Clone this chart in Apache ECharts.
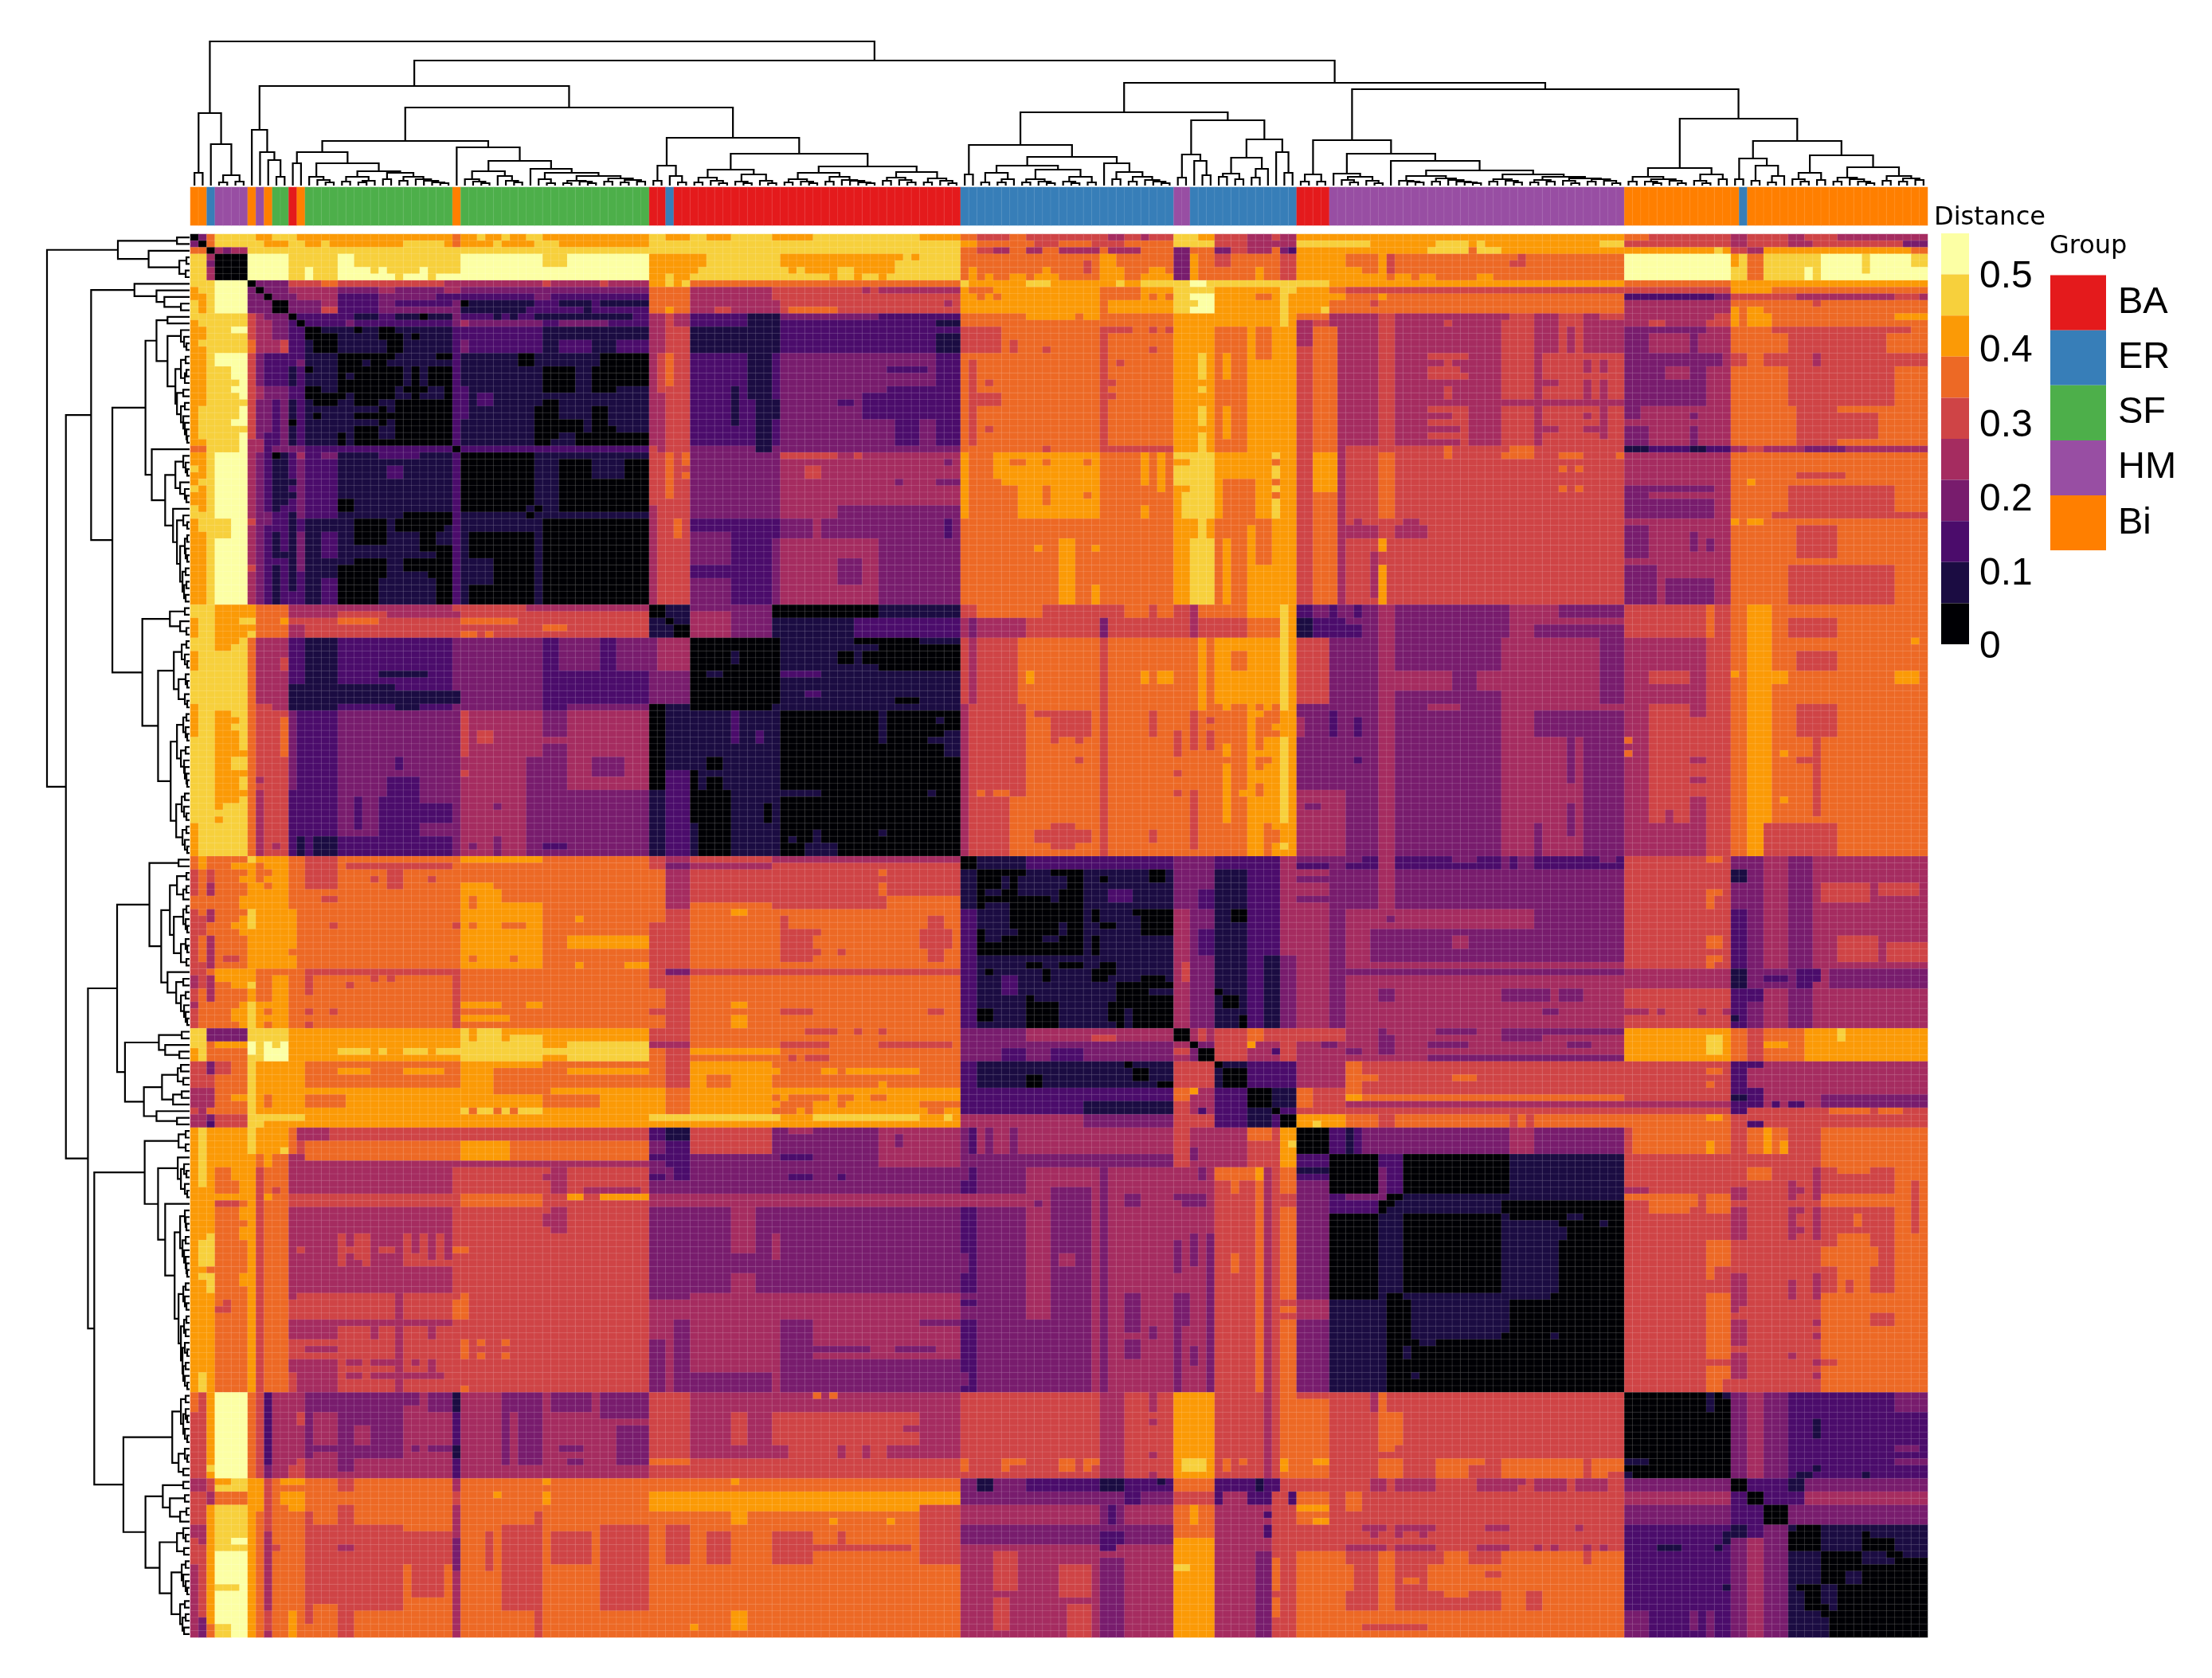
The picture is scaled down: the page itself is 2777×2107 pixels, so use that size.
<!DOCTYPE html>
<html><head><meta charset="utf-8"><style>html,body{margin:0;background:#fff}#c{width:2777px;height:2107px}</style>
<script src="https://cdn.jsdelivr.net/npm/echarts@6/dist/echarts.min.js"></script></head><body><div id="c"></div>
<script>
const N=212;
const LEVEL_COLORS=['#000004','#1B0C42','#4B0C6B','#781C6D','#A52C60','#CF4446','#ED6925','#FB9A06','#F7D03C','#FCFFA4'];
const BIN=0.055;
const TICKS=['0','0.1','0.2','0.3','0.4','0.5'];
const GROUP_NAMES=['BA','ER','SF','HM','Bi'];
const GROUP_COLORS=['#E41A1C','#377EB8','#4DAF4A','#984EA3','#FF7F00'];
const GROUP_RUNS=[[4,2],[1,1],[3,4],[4,1],[3,1],[4,1],[2,2],[0,1],[4,1],[2,18],[4,1],[2,23],[0,2],[1,1],[0,35],[1,26],[3,2],[1,13],[0,4],[3,36],[4,14],[1,1],[4,22]];
// Patches: [rowFrom,rowTo,colFrom,colTo,colourLevel], painted in order, mirrored across the diagonal.
const ROWS_0_2=[[0,1,0,1,0],[0,1,1,2,3],[0,1,2,3,6],[0,1,3,71,8],[0,1,8,10,7],[0,1,13,32,7],[0,1,32,33,6],[0,1,33,35,7],[0,1,36,38,7],[0,1,39,41,7],[0,1,43,56,7],[0,1,58,61,7],[0,1,63,66,7],
[1,2,1,2,0],[1,2,2,3,6],[1,2,3,71,8],[1,2,6,7,9],[1,2,9,12,7],[1,2,14,16,7],[1,2,17,26,7],[1,2,31,32,7],[1,2,32,33,6],[1,2,33,37,7],[1,2,38,42,7],[1,2,45,56,7],
[2,3,2,3,0],[2,3,3,7,4],[2,3,4,5,3],[2,3,7,71,8],
[0,1,71,76,7],[0,1,76,89,8],[0,1,89,94,7],[0,1,94,96,6],[0,1,96,100,5],[0,1,100,102,6],[0,1,102,112,5],[0,1,112,114,4],[0,1,114,116,5],[0,1,116,117,4],[0,1,117,120,5],[0,1,120,123,8],[0,1,123,125,7],[0,1,125,129,5],[0,1,129,132,4],[0,1,132,133,5],[0,1,133,135,4],[0,1,135,142,7],
[1,2,71,94,8],[1,2,94,96,7],[1,2,96,120,6],[1,2,103,106,5],[1,2,110,114,5],[1,2,120,125,8],[1,2,125,129,5],[1,2,129,135,4],[1,2,135,145,8],
[2,3,71,94,8],[2,3,94,120,6],[2,3,96,98,5],[2,3,98,100,4],[2,3,102,104,4],[2,3,106,111,4],[2,3,112,116,4],[2,3,120,122,3],[2,3,125,127,3],[2,3,127,129,5],[2,3,129,132,4],[2,3,133,134,3],[2,3,134,135,2],[2,3,135,141,7],
[0,1,141,175,7],[0,1,175,178,6],[0,1,178,188,5],[0,1,188,190,4],[0,1,190,195,5],[0,1,195,197,4],[0,1,197,201,5],[0,1,201,212,4],
[1,2,144,152,7],[1,2,152,156,8],[1,2,156,157,7],[1,2,157,158,8],[1,2,158,172,7],[1,2,172,175,8],[1,2,175,188,5],[1,2,188,190,4],[1,2,190,195,5],[1,2,195,198,4],[1,2,198,209,5],[1,2,209,212,3],
[2,3,141,151,7],[2,3,151,156,8],[2,3,157,160,8],[2,3,160,186,7],[2,3,186,187,8],[2,3,187,188,7],[2,3,188,190,5],[2,3,190,192,4],[2,3,192,210,7],[2,3,210,212,6]];
const ROWS_3_7=[[3,7,0,2,8],[3,7,3,7,0],[3,7,7,12,9],[3,7,12,18,8],[5,7,14,15,9],[3,7,18,20,9],[3,5,20,33,8],[5,6,18,22,9],[5,6,22,23,8],[5,6,23,24,9],[5,6,24,28,8],[5,6,28,29,9],[5,6,29,33,8],[6,7,18,25,9],[6,7,25,26,8],[6,7,26,29,9],[6,7,29,30,8],[6,7,30,56,9],[3,6,33,43,9],[3,5,43,46,8],[5,7,43,46,9],[3,6,46,56,9],
[3,5,56,63,7],[3,5,63,71,8],[5,6,56,62,7],[5,6,62,71,8],[6,7,56,58,7],[6,7,58,59,8],[6,7,59,61,7],[6,7,61,71,8],
[3,7,71,94,8],[3,4,72,87,7],[3,4,88,89,7],[4,5,72,86,7],[5,6,73,74,7],[5,6,75,79,7],[5,6,81,86,7],[6,7,78,79,7],[6,7,81,82,7],[6,7,84,85,7],
[3,7,94,120,6],[5,7,95,96,7],[6,7,97,98,7],[6,7,100,102,7],[6,7,103,106,7],[5,6,104,105,7],[3,7,111,113,7],[4,6,109,110,5],[5,7,113,114,7],[5,6,117,119,7],[6,7,116,120,7],[3,7,120,122,3],[3,7,122,123,7],[3,7,123,135,6],[3,5,125,127,5],[5,7,130,131,7],[3,7,133,135,5],[3,7,135,141,7],
[3,7,141,175,6],[5,6,141,143,7],[6,7,141,145,7],[3,7,145,146,7],[3,6,146,147,5],[6,7,147,149,7],[6,7,150,152,7],[6,7,157,159,7],[4,5,161,163,5],[3,4,162,163,5],
[3,7,175,188,9],[3,5,188,189,7],[3,5,189,190,8],[5,7,188,190,8],[3,7,190,192,6],[3,7,192,199,8],[5,7,197,198,9],[3,7,199,204,9],[3,6,204,205,8],[3,7,205,210,9],[6,7,204,205,9],[3,5,210,212,8],[5,7,210,212,9]];
const ROWS_7_14=[[7,8,8,12,3],[7,8,12,16,5],[7,8,16,18,6],[7,8,18,31,5],[7,8,31,43,4],[7,8,43,44,5],[7,8,44,50,4],[7,8,50,51,5],[7,8,51,56,4],[7,8,56,58,7],[7,8,58,59,8],[7,8,59,60,7],[7,8,60,61,8],[7,8,61,71,6],
[7,8,71,94,6],[7,8,94,95,8],[7,8,95,102,7],[7,8,102,105,8],[7,8,105,113,7],[7,8,113,114,8],[7,8,114,116,7],[7,8,116,122,8],[7,8,122,124,9],[7,8,124,139,8],[7,8,139,142,7],[7,8,141,175,7],[7,8,175,188,6],[7,8,188,212,7],
[8,9,9,12,3],[8,9,12,18,4],[8,9,18,56,3],[8,9,23,25,4],[8,9,31,33,4],[8,9,56,61,6],[8,9,61,71,4],[8,9,71,94,5],[8,9,82,83,4],[8,9,84,94,4],[8,9,94,120,7],[8,9,95,98,6],[8,9,111,116,6],[8,9,120,125,8],[8,9,125,139,7],[8,9,133,135,8],[8,9,141,175,5],[8,9,175,188,5],[8,9,188,193,7],[8,9,193,212,6],
[9,10,10,12,3],[9,10,12,13,3],[9,10,13,18,4],[9,10,18,23,2],[9,10,23,30,3],[9,10,30,42,2],[9,10,42,44,3],[9,10,44,56,2],[9,10,56,61,6],[9,10,61,71,4],[9,10,71,94,5],[9,10,94,120,7],[9,10,96,97,6],[9,10,98,99,6],[9,10,111,116,6],[9,10,117,118,6],[9,10,119,120,6],[9,10,120,122,8],[9,10,122,125,9],[9,10,125,135,7],[9,10,130,132,6],[9,10,133,134,8],[9,10,135,141,7],[9,10,141,175,6],[9,10,145,146,7],[9,10,175,186,2],[9,10,186,188,3],[9,10,188,196,5],[9,10,196,208,4],[9,10,208,211,5],[9,10,211,212,4],
[10,11,12,16,3],[10,11,16,18,4],[10,11,18,23,2],[10,11,23,25,3],[10,11,25,32,2],[10,11,32,33,3],[10,11,33,34,0],[10,11,34,42,1],[10,11,42,45,2],[10,11,45,49,1],[10,11,49,50,2],[10,11,50,56,1],
[11,12,12,16,3],[11,12,16,18,5],[11,12,18,23,2],[11,12,23,33,3],[11,12,33,41,1],[11,12,41,48,2],[11,12,48,49,1],[11,12,49,56,2],
[10,12,56,61,6],[11,12,58,59,7],[10,12,61,71,4],[11,12,64,66,5],[10,12,71,94,5],[10,12,71,72,4],[10,11,92,93,4],[11,12,73,79,6],[10,12,94,120,7],[10,12,111,112,6],[10,12,120,122,8],[10,11,122,125,8],[11,12,122,125,9],[10,11,123,125,9],[10,12,125,135,7],[10,12,133,134,8],[10,12,135,139,7],[11,12,138,139,8],[10,12,141,175,6],[10,11,144,145,5],[10,12,175,188,4],[10,12,188,212,6],[11,12,188,189,7],[11,12,190,192,7],[10,11,198,199,5],
[12,13,13,20,2],[12,13,20,23,1],[12,13,23,25,2],[12,13,25,28,1],[12,13,28,29,0],[12,13,29,32,1],[12,13,32,33,3],[12,13,33,37,2],[12,13,37,38,1],[12,13,38,39,2],[12,13,39,40,1],[12,13,40,42,2],[12,13,42,54,1],[12,13,54,56,2],
[12,18,56,57,3],[12,18,57,58,4],[12,18,58,60,5],[12,18,60,61,4],[12,13,61,67,2],[12,13,67,71,1],
[13,14,14,19,2],[13,14,19,20,3],[13,14,20,32,2],[13,14,32,33,3],[13,14,33,34,4],[13,14,34,43,3],[13,14,43,56,2],[13,14,45,51,3],[13,14,61,71,2],
[12,13,71,72,1],[12,13,72,84,3],[12,13,84,94,2],[13,14,71,72,1],[13,14,72,91,2],[13,14,91,94,1],[12,14,94,120,6],[12,13,102,108,7],[12,13,109,111,7],[12,14,120,125,7],[12,14,125,135,7],[12,14,133,134,8],[12,13,135,137,6],[13,14,135,137,4],[13,14,137,139,5],[12,13,137,139,6],[12,14,139,141,4],
[12,13,141,145,4],[12,13,145,147,5],[12,13,147,161,4],[12,13,161,164,5],[12,13,164,167,4],[12,13,167,170,5],[12,13,170,172,4],[12,13,172,175,5],[12,13,175,186,4],[12,13,186,188,5],[12,13,188,189,7],[12,13,189,190,6],[12,13,190,193,7],[12,13,193,208,6],[12,13,208,212,7],
[13,14,141,145,4],[13,14,145,147,5],[13,14,147,153,4],[13,14,153,154,5],[13,14,154,160,4],[13,14,160,164,5],[13,14,164,167,4],[13,14,167,170,5],[13,14,170,178,4],[13,14,178,180,5],[13,14,180,185,4],[13,14,185,188,5],[13,14,188,189,7],[13,14,189,190,6],[13,14,190,193,7],[13,14,193,212,6],
[7,8,7,8,0],[8,9,8,9,0],[9,10,9,10,0],[10,12,10,12,0],[12,13,12,13,0],[13,14,13,14,0]];
const BLOCK_SF=[[14,56,14,56,1],[14,16,14,16,0],[15,18,15,18,0],[14,15,20,21,0],[14,16,23,25,0],[15,16,27,28,0],[16,18,25,26,0],
[14,18,33,43,2],[14,15,40,42,1],[14,16,43,49,1],[16,18,45,49,2],[14,18,49,56,1],[16,18,52,56,2],
[18,32,18,32,0],[18,20,26,30,1],[19,20,21,22,1],[19,20,24,25,1],[20,23,26,27,1],[20,23,28,29,1],[23,25,25,26,1],[24,25,28,30,1],[24,25,19,20,1],[25,32,18,20,1],[26,27,22,23,1],[26,27,24,25,1],[28,29,21,23,1],[28,29,24,25,1],[29,31,23,25,1],[30,32,18,19,0],
[20,21,14,15,0],[23,25,14,16,0],[24,25,16,18,0],[25,26,15,16,0],[27,28,15,16,0],
[18,20,40,42,0],[18,20,50,56,0],[20,24,43,47,0],[20,24,49,52,0],[20,23,54,56,0],[25,28,43,45,0],[26,32,42,44,0],[26,29,49,51,0],[29,32,49,52,0],[28,30,42,47,0],[28,32,47,48,0],[30,32,52,56,0],[24,26,35,37,3],
[33,42,14,18,2],[33,34,16,18,3],[45,49,16,18,2],[33,34,23,28,2],[35,37,24,26,2],[40,42,18,20,0],[43,47,20,24,0],[43,45,25,31,0],[49,51,26,32,0],[50,53,18,23,0],[53,56,18,19,0],[53,56,20,23,0],[51,56,30,32,0],[47,48,29,30,0],[48,49,30,32,0],
[33,42,33,41,0],[34,37,45,49,0],[37,42,45,56,0],[34,38,54,56,0],[43,56,43,56,0],[45,49,34,41,0],[49,56,37,41,0],[53,56,34,37,0],[42,43,41,42,0],
[32,33,14,56,2],[14,32,32,33,2],[32,33,32,33,0]];
const SF_RIGHT=[[18,32,56,58,4],[18,32,58,60,5],[18,32,60,61,4],[18,20,58,59,6],[21,22,58,59,6],[28,29,58,59,6],[32,33,56,61,5],[33,56,56,57,5],[33,56,57,58,6],[33,43,58,59,7],[33,43,59,60,6],[33,37,60,61,7],[37,56,60,61,5],[43,56,58,60,6],[43,45,57,58,5],[49,56,60,61,6],
[14,18,61,64,2],[14,18,64,71,1],[18,32,61,71,2],[26,28,69,71,1],[25,26,63,64,1],[32,56,61,71,3],[44,46,61,71,2],[50,52,62,65,2],
[14,18,71,72,1],[14,18,72,94,2],[15,18,91,94,1],[18,32,71,72,2],[18,32,72,91,3],[18,32,91,94,2],[20,21,85,90,2],[24,28,82,94,2],[23,24,85,91,2],[25,26,79,81,2],[28,32,86,89,2],[25,28,71,72,1],[32,33,71,94,3],[33,43,71,72,3],[33,43,72,94,4],[33,34,72,79,5],[33,34,81,82,5],[35,37,75,77,5],[37,38,86,87,3],[37,38,91,94,3],[34,35,92,93,3],[41,43,79,94,3],[43,46,71,72,2],[43,46,72,76,3],[43,46,76,77,4],[43,46,77,94,3],[43,46,92,93,2],[46,56,71,72,3],[46,56,72,84,4],[46,56,84,94,3],[49,53,79,82,3],
[14,18,94,99,5],[14,15,111,115,5],[14,32,111,112,5],[16,18,100,101,5],[17,18,104,105,5],[17,18,117,118,5],[14,15,117,118,5],[14,15,119,120,5],[19,32,95,96,5],[22,23,97,98,5],[24,26,95,99,5],[22,23,112,113,5],[24,25,112,113,5],[19,20,113,114,5],[29,30,97,98,5],[32,33,104,105,5],[32,33,111,120,5],
[33,43,94,95,7],[33,37,98,111,7],[34,35,100,102,6],[34,35,104,105,6],[34,35,109,110,6],[37,38,99,111,7],[38,43,101,111,7],[38,41,104,105,6],[39,40,109,110,6],[33,38,116,117,7],[41,43,116,117,7],[33,39,118,119,7],[46,56,106,108,7],[47,48,103,104,7],[47,48,110,111,7],[53,56,110,111,7],
[14,33,120,125,7],[18,22,123,124,8],[23,24,123,124,8],[26,29,123,124,8],[30,33,123,124,8],[33,43,120,122,7],[33,43,122,125,8],[33,34,120,122,8],[35,38,120,122,8],[39,43,121,122,8],[43,46,120,123,7],[43,46,123,124,8],[43,46,124,125,7],[46,56,120,122,7],[46,56,122,125,8],
[14,33,125,130,6],[14,19,130,131,6],[18,22,126,127,7],[26,31,126,127,7],[14,33,129,130,7],[19,33,130,132,7],[14,33,132,135,7],[33,43,125,126,7],[33,37,126,130,7],[37,43,126,130,6],[33,43,130,132,7],[33,34,132,133,8],[35,37,132,133,8],[38,39,132,133,8],[40,43,132,133,8],[43,44,133,134,8],[33,43,133,135,7],[43,56,125,130,6],[44,56,129,130,7],[46,56,126,127,7],[50,56,130,132,7],[43,56,132,135,7],
[14,56,135,137,5],[14,56,137,140,6],[14,56,140,141,4],[14,17,135,137,4],[33,39,137,140,7],
[14,32,141,145,4],[14,32,145,147,5],[14,32,147,160,4],[14,32,160,175,5],[14,18,160,164,5],[14,18,164,167,4],[14,18,168,169,4],[14,18,170,175,4],[32,33,141,175,5],[18,22,151,156,5],[19,20,151,153,4],[19,20,154,156,4],[20,21,155,156,4],[23,25,153,154,5],[18,32,164,165,4],[19,21,170,171,4],[19,21,172,173,4],[22,23,165,167,4],[22,25,172,173,4],[22,25,170,171,4],[25,26,160,175,4],[26,32,151,156,5],[27,28,151,154,4],[29,30,151,155,4],[31,32,151,155,4],[27,28,170,171,4],[26,31,172,173,4],[29,30,170,172,4],[29,30,165,167,4],
[14,32,175,188,4],[14,15,175,185,3],[15,18,175,178,3],[15,18,183,184,3],[18,26,175,185,3],[18,20,185,187,3],[20,22,180,183,4],[26,32,175,178,4],[26,28,175,177,3],[29,32,175,178,3],[27,28,183,184,3],[29,32,183,184,3],
[14,32,188,212,6],[14,15,193,210,5],[15,18,195,207,5],[18,20,188,190,5],[18,20,192,198,5],[18,20,198,199,4],[18,20,199,212,5],[20,26,195,208,5],[26,32,196,201,5],[27,31,201,206,5],
[32,33,175,178,1],[32,33,178,183,2],[32,33,183,185,1],[32,33,185,188,2],[32,33,188,190,4],[32,33,190,192,5],[32,33,192,197,4],[32,33,197,202,3],[32,33,202,212,4],[32,33,153,154,6],[32,33,161,164,6],
[33,56,141,145,5],[33,43,145,147,6],[43,56,145,147,5],[33,56,147,175,5],[33,34,153,154,6],[33,34,160,164,6],[33,34,167,170,6],[33,34,174,175,6],[35,36,167,168,6],[35,36,169,170,6],[38,39,167,168,6],[38,39,169,170,6],[44,46,141,145,4],[44,46,147,151,4],[43,44,142,143,4],[43,44,148,150,4],[46,48,145,146,7],[50,56,145,146,7],[48,55,144,145,4],
[33,56,175,188,4],[38,43,175,178,3],[38,39,178,186,3],[40,43,178,186,3],[44,49,175,178,3],[45,48,183,184,3],[46,48,185,186,3],[50,56,175,179,3],[52,56,180,186,3],
[33,56,188,212,6],[36,37,196,202,5],[38,42,195,208,5],[42,43,193,212,5],[44,49,196,201,5],[50,56,195,208,5],[43,44,188,189,7],[43,44,190,192,7],[37,38,190,191,7]];
const BLOCK_BA=[[56,57,12,32,4],[56,57,33,41,5],[56,57,41,56,4],[57,58,12,18,4],[57,58,18,24,5],[57,58,24,33,4],[57,58,33,56,5],[58,59,12,18,5],[58,59,18,23,6],[58,59,23,33,5],[58,59,33,40,6],[58,59,40,56,5],[59,61,12,14,4],[59,61,14,56,5],[60,61,33,35,6],[60,61,36,37,6],[59,60,43,46,6],
[56,61,56,61,1],[56,58,56,58,0],[58,59,58,59,0],[59,61,59,61,0],[56,61,61,71,2],
[56,58,71,84,0],[56,58,84,94,1],[58,61,71,81,1],[58,61,81,94,2],
[56,58,94,120,6],[56,58,94,96,5],[56,58,104,114,5],[56,58,117,118,5],[56,58,120,122,5],[56,58,122,123,4],[56,58,123,130,6],[56,58,129,133,7],[56,58,133,134,8],[56,58,134,135,7],[56,58,135,137,2],[56,58,137,139,3],[56,58,139,140,2],[56,58,140,141,3],
[58,61,94,95,4],[58,61,95,96,3],[58,61,96,102,4],[58,61,102,111,5],[58,61,111,112,3],[58,61,112,122,5],[58,61,122,123,4],[58,61,123,129,5],[58,61,129,133,6],[58,61,133,134,8],[58,61,134,135,7],[58,61,135,137,1],[58,61,137,141,2],
[56,61,141,145,3],[56,58,142,143,2],[59,61,141,143,2],[56,61,145,147,4],[56,61,147,161,3],[56,61,161,167,4],[56,58,167,175,3],[58,59,167,175,4],[59,61,164,175,3],
[56,61,175,185,5],[56,61,185,186,6],[56,61,186,188,5],[56,61,188,190,6],[56,61,190,193,7],[56,61,193,212,6],[58,61,195,201,5],
[61,71,12,14,2],[61,71,14,18,1],[61,71,18,33,2],[61,71,32,33,3],[61,71,33,43,3],[61,71,43,45,2],[61,71,45,50,3],[61,66,50,52,2],[61,71,52,56,3],[68,71,12,25,1],[69,71,25,33,1],[66,67,23,29,1],[66,71,43,56,2],[61,71,56,57,3],[61,71,57,61,4],[66,71,56,61,3],
[61,72,61,72,0],[63,65,66,67,1],[61,71,71,72,0],[61,71,72,94,1],[61,62,81,89,0],[62,66,84,94,0],[63,65,79,81,0],[63,65,82,84,0],[66,67,72,77,2],[69,70,75,77,2],[70,71,86,89,0],
[61,71,94,95,5],[61,71,95,96,4],[61,71,96,101,5],[61,71,101,111,6],[61,71,111,112,5],[61,71,112,123,6],[66,68,102,103,7],[66,68,116,117,7],[66,68,118,120,7],[61,71,123,124,7],[61,71,124,125,6],[61,71,125,133,7],[63,66,127,129,6],[61,71,133,134,8],[61,71,134,135,7],[61,71,135,139,5],[61,71,139,141,3],
[61,71,141,145,3],[61,71,145,147,4],[61,66,147,160,3],[61,71,160,172,4],[61,71,172,175,3],[66,71,147,155,4],[66,69,154,157,3],[66,69,157,172,4],[69,71,147,160,3],[61,71,175,185,4],[61,71,185,188,5],[66,68,178,183,5],[61,71,188,190,6],[61,71,190,193,7],[61,71,193,212,6],[63,66,196,201,5],[66,68,192,195,7],[66,68,208,211,7],[61,62,210,211,7],[66,67,188,189,7],
[71,94,71,94,0],[71,72,71,84,1],[71,94,71,72,1],[72,77,84,85,1],[75,77,92,94,1],[84,85,72,77,1],[91,92,73,74,1],[92,94,75,79,1],[90,94,76,77,1],[90,91,84,85,1],
[71,94,94,120,6],[71,94,94,95,4],[71,94,95,96,5],[71,85,96,102,5],[85,94,96,100,5],[84,85,96,97,6],[84,85,98,100,6],[72,73,103,110,5],[73,76,105,110,5],[76,77,105,106,5],[76,77,108,109,5],[79,80,108,109,5],[71,94,111,112,5],[72,76,117,118,5],[75,79,120,121,5],[81,82,120,121,5],[84,85,120,121,5],[72,78,122,123,5],[84,93,122,123,5],[73,74,124,125,5],[75,78,124,125,5],[90,92,103,110,5],[89,90,105,108,5],[92,93,105,108,5],[90,92,117,118,5],
[71,94,125,135,6],[77,79,126,127,7],[80,89,126,127,7],[71,72,126,127,7],[71,72,123,124,7],[84,85,128,135,7],
[71,94,129,130,7],[71,94,130,131,6],[72,73,130,131,7],[78,79,130,131,7],[81,83,130,131,7],[85,94,130,131,7],[71,72,131,132,7],[72,76,131,132,6],[76,79,131,132,7],[80,89,131,132,7],[89,94,131,132,6],[71,94,132,133,6],[74,75,132,133,7],[76,90,132,133,7],[92,94,132,133,7],[71,72,133,134,8],[72,76,133,134,7],[76,89,133,134,8],[89,92,133,134,7],[92,93,133,134,8],[93,94,133,134,7],[71,94,134,135,7],
[71,84,135,139,3],[71,94,139,141,3],[72,76,139,140,2],[84,94,135,141,4],[86,87,136,138,3],[73,76,135,136,4],
[71,94,141,145,3],[73,76,142,143,2],[79,80,142,143,2],[71,94,145,147,4],[71,94,147,160,3],[71,72,151,155,4],[71,94,160,175,4],[72,76,164,175,3],[76,94,170,175,3],[76,83,168,169,3],[86,91,168,169,3],[89,94,164,165,3],
[71,94,175,178,4],[71,94,178,188,5],[71,73,183,185,4],[76,77,175,176,6],[78,79,175,176,6],[79,80,183,185,4],[82,83,183,185,4],[85,89,183,185,4],[89,94,175,185,4],[87,89,180,181,4],
[71,94,188,190,6],[71,90,190,193,7],[90,94,190,192,7],[71,94,193,212,6],[71,76,196,201,5],[78,79,194,195,7],[85,86,194,195,7],[79,80,196,199,5],[71,88,198,199,5],[89,94,192,201,5]];
const BLOCK_ER=[[94,120,94,120,1],[94,96,94,96,0],[94,96,102,120,2],[96,109,96,109,0],[99,100,97,99,1],[101,106,97,100,1],[96,97,102,105,1],[97,99,104,107,1],[105,106,100,101,1],[106,107,104,106,1],
[99,101,112,115,2],[96,98,117,118,0],[97,98,111,112,0],[102,106,116,120,0],[102,104,110,111,0],[104,105,111,113,0],[102,103,115,116,0],[106,109,110,111,0],
[116,120,102,106,0],[118,119,96,98,0],[110,112,111,113,0],[112,113,116,119,0],[113,116,113,116,0],[116,120,113,114,0],[115,120,116,120,0],[114,115,115,117,0],[111,112,97,98,0],[111,113,104,105,0],
[94,120,120,122,4],[94,102,120,122,3],[94,120,122,125,3],[99,102,123,125,2],[105,109,123,125,2],[94,96,125,129,2],[96,120,125,129,1],[102,104,127,129,0],[115,117,126,128,0],[118,120,128,129,0],[114,115,125,126,0],[94,120,129,133,2],[109,120,131,133,1],[94,120,133,135,4],[109,120,133,135,3],[110,113,121,122,5],
[94,120,135,141,4],[94,96,135,139,3],[95,96,135,139,2],[97,98,135,139,3],[100,101,135,139,3],[94,120,139,141,3],
[94,120,141,145,3],[94,95,143,145,2],[95,96,141,145,2],[94,120,145,147,4],[94,95,147,154,2],[95,96,147,175,3],[95,96,147,160,2],[96,120,147,175,3],[94,95,154,175,3],[94,95,157,160,2],[94,95,161,162,2],[95,96,161,162,2],[94,95,164,172,2],[95,96,164,175,2],[94,95,174,175,2],
[102,105,141,161,4],[103,104,146,147,3],[102,105,164,175,3],[102,105,161,164,4],[105,110,141,144,4],[105,110,144,154,3],[106,108,154,156,4],[105,110,156,175,3],[110,111,141,175,4],[111,112,141,175,3],[112,120,141,175,4],[114,116,145,147,3],[114,116,160,166,3],[114,116,167,170,3],[117,118,165,167,3],
[94,120,175,188,5],[94,95,185,187,6],[99,100,185,187,6],[100,102,185,186,6],[106,108,185,187,6],[109,110,185,187,6],[110,111,185,186,6],[111,114,175,188,4],[117,118,175,178,4],[117,118,179,180,4],[117,118,184,185,4],[117,118,187,188,4],
[94,120,188,190,2],[94,96,188,190,3],[96,98,188,190,1],[98,102,188,190,3],[111,114,188,190,1],[118,119,188,189,1],
[94,120,190,192,3],[94,120,192,195,4],[94,120,195,198,3],[94,120,198,212,4],[98,101,199,205,5],[98,100,206,211,5],[106,110,201,206,5],[107,110,207,212,5],[111,114,190,196,3],[111,114,196,198,2],[111,113,198,199,2],[111,114,200,212,3],[114,116,190,192,2],[112,113,192,195,2],
[120,122,122,125,4],[120,122,123,124,5],[120,122,125,129,5],[120,122,129,131,6],[120,122,131,135,5],[122,123,123,125,3],[122,125,125,129,5],[122,125,129,133,4],[122,123,129,130,7],[122,123,133,134,7],[123,124,132,133,2],[122,125,133,135,5],[125,126,126,129,1],[125,129,129,135,2],[129,132,132,135,1],[132,133,133,135,2],
[120,122,120,122,0],[122,123,122,123,0],[123,125,123,125,0],[125,126,125,126,0],[126,129,126,129,0],[129,132,129,132,0],[132,133,132,133,0],[133,135,133,135,0],
[120,122,135,141,5],[122,125,135,141,4],[122,123,138,140,3],[125,129,135,141,4],[129,133,135,141,5],[129,132,135,137,6],[133,135,135,141,7],[134,135,137,138,8],
[120,125,141,175,4],[120,121,145,146,3],[121,124,145,147,3],[120,121,152,157,3],[120,121,160,175,3],[121,122,160,165,3],[122,123,151,156,3],[122,123,168,171,3],[124,125,151,175,3],[123,124,141,143,3],
[125,130,141,175,5],[125,130,141,143,6],[127,128,141,145,6],[127,128,154,157,6],[130,131,141,175,6],[130,131,141,143,7],[131,132,141,175,4],[132,133,141,175,5],[133,136,141,175,6],[133,136,145,147,5],[133,136,161,162,5],[133,136,163,164,5],
[120,125,175,188,7],[121,124,185,187,8],[125,130,175,188,5],[126,127,185,187,6],[128,129,185,186,6],[130,131,175,188,5],[131,132,175,188,4],[132,133,175,188,5],[133,134,175,188,6],[133,134,185,187,7],[134,136,175,188,6],
[120,125,188,190,6],[120,125,190,192,5],[120,125,192,197,6],[120,125,197,212,7],[120,122,201,202,8],[122,123,192,195,7],
[125,133,188,190,2],[130,131,188,190,1],[125,133,190,212,4],[125,126,190,192,2],[129,132,190,192,2],[131,132,193,194,2],[131,132,195,197,2],[130,132,199,212,3],[132,133,190,212,5],[132,133,200,205,6],[132,133,206,209,6],[133,136,188,212,5],[134,135,190,192,2]];
const BLOCK_HM=[[135,139,135,139,0],[135,139,139,141,2],[135,139,141,142,1],[135,139,142,143,2],[135,139,143,175,3],[135,139,161,164,4],[135,139,175,188,6],[135,139,175,176,5],[137,139,185,186,7],[135,139,188,190,5],[135,139,190,192,6],[135,139,192,193,7],[135,139,193,212,6],[135,139,195,199,5],[137,139,194,195,7],
[139,175,139,175,0],[139,146,145,147,2],[141,146,145,147,3],[146,175,145,147,1],[146,148,145,147,0],[146,148,139,145,2],[146,148,147,160,1],[139,146,160,175,1],[148,161,160,166,1],[146,148,160,175,0],[148,149,168,170,1],[149,150,172,173,1],[150,152,166,168,1],[161,175,139,145,1],[161,167,147,160,1],[161,167,147,149,0],[158,161,139,145,0],[166,167,166,167,1],
[139,175,175,188,5],[146,148,178,183,6],[146,148,185,188,6],[145,146,175,178,4],[153,158,185,186,6],[161,164,185,188,6],[165,170,185,187,6],[171,172,185,186,6],[173,175,185,187,6],
[139,175,188,199,5],[139,175,199,212,6],[145,146,188,190,4],[148,152,188,190,4],[158,161,188,190,4],[162,163,188,189,4],[164,168,188,190,4],[169,172,188,190,4],[143,146,195,196,4],[148,152,195,196,4],[159,161,195,196,4],[141,146,198,199,4],[148,152,198,199,4],[158,161,198,199,4],[164,165,198,199,4],[166,167,198,199,4],[170,171,198,199,4],[172,173,198,199,4]];
const HM_VS_BI=[[190,193,141,143,6],[175,178,145,146,6],[178,184,145,147,6],[185,188,145,147,6],[175,178,144,145,4],[185,188,152,156,6],[185,188,160,163,6],[185,188,164,170,6],[185,188,171,173,6],
[188,190,144,145,4],[188,190,147,152,4],[188,190,157,160,4],[188,190,161,162,4],[188,190,164,168,4],[188,190,169,173,4],
[195,196,143,145,4],[195,196,147,152,4],[195,196,158,160,4],[195,196,169,170,4],[196,197,144,145,4],[196,197,147,148,4],[196,197,150,151,4],
[198,199,142,145,4],[198,199,147,152,4],[198,199,157,160,4],[198,199,164,165,4],[198,199,166,167,4],[198,199,170,171,4],[198,199,172,173,4],
[199,212,141,175,5],[199,201,153,156,6],[199,201,160,170,6],[199,201,171,175,6],[199,212,145,147,6],[201,205,141,142,6],[201,205,147,175,6],[201,205,147,151,5],[203,204,148,150,6],[202,203,142,145,5],[202,203,158,160,5],
[205,206,153,156,6],[205,208,160,163,6],[205,208,165,175,6],[208,210,141,175,6],[210,212,141,175,6],[210,211,143,151,5]];
const BLOCK_BI=[[175,188,175,188,0],[175,178,185,186,1],[175,176,187,188,1],[175,188,188,190,3],[175,188,190,192,4],[175,188,192,195,3],[175,188,195,208,2],[175,178,208,212,3],[178,188,208,212,2],[179,182,198,199,1],[183,184,208,211,3],[185,186,208,212,3],[186,187,198,199,1],[187,188,196,198,1],[187,188,204,205,1],
[188,190,188,190,0],[188,190,190,195,2],[188,190,195,197,1],[188,190,197,212,3],[190,192,190,192,0],[190,192,192,197,2],[190,192,197,212,4],[192,195,192,195,0],[192,195,195,212,3],
[195,212,195,212,1],[195,199,196,199,0],[199,204,199,202,0],[198,199,204,208,0],[204,212,201,212,0],[202,204,206,212,0],[204,205,196,199,0],[205,208,197,198,0],[208,212,200,201,0],[199,200,207,209,0],[201,203,208,209,0]];
// Dendrogram: [mergeHeight,leftChild,rightChild], 0 is a leaf.
const TREE_LOW=[91,[16,0,0],[52,0,[13,[4,0,0],[5,0,0]]]];
const TREE_SMALL=[70,0,[42,0,[32,0,[11,0,0]]]];
const TREE_SF1=[42,[28,0,0],[28,[11,0,[7,0,[4,0,0]]],[18,[11,[5,0,0],[6,[4,0,0],0]],[16,[8,0,0],[11,[6,0,0],[8,0,[6,0,[4,0,[3,0,0]]]]]]]]];
const TREE_SF2=[48,0,[31,[18,[8,0,[5,0,[3,0,0]]],[12,0,[6,0,[4,0,0]]]],[21,0,[16,[8,0,[3,0,0]],[12,[6,[3,0,0],[5,0,[3,0,0]]],[9,[5,0,0],[7,[4,0,0],[5,0,0]]]]]]]];
const TREE_BA=[60,[25,[6,0,0],[12,0,[4,0,0]]],[40,[20,[10,[4,0,0],[6,0,[3,0,0]]],[14,[5,0,[3,0,0]],[6,0,[3,0,0]]]],[24,[16,[8,[4,0,0],[5,0,[3,0,0]]],[11,[5,0,0],[7,0,[6,0,[4,0,[3,0,0]]]]]],[17,[10,[6,0,0],[7,0,[4,0,0]]],[9,[4,0,0],[6,0,[3,0,0]]]]]]];
const TREE_ER=[92,[51,[14,0,0],[36,[25,[16,[4,0,0],[8,[4,0,0],0]],[20,[8,[4,0,0],[5,0,[3,0,0]]],[11,[5,0,[3,0,0]],[4,0,0]]]],[28,0,[17,[8,0,0],[11,[5,0,0],[7,0,[5,0,[3,0,0]]]]]]]],[82,[39,[10,0,0],[31,0,[13,0,0]]],[58,[35,[15,[11,0,0],[8,0,0]],[21,[10,0,0],0]],[42,0,[16,0,0]]]]];
const TREE_HM=[57,[14,[5,0,0],[5,0,0]],[40,[15,0,[11,[7,0,[4,0,0]],[6,0,[3,0,0]]]],[31,0,[19,[12,[6,0,[5,0,[4,0,0]]],[9,[5,0,0],[7,0,[5,0,[4,0,[3,0,0]]]]]],[14,[8,[5,0,0],[6,0,[4,0,0]]],[11,[7,[4,0,0],[5,0,0]],[9,[6,0,[3,0,0]],[8,[5,0,0],[6,0,[3,0,0]]]]]]]]]];
const TREE_BI=[84,[22,[11,[5,0,0],[8,[5,0,[3,0,0]],[6,0,[3,0,0]]]],[14,[6,0,[3,0,0]],[8,0,0]]],[56,[34,[8,0,0],[25,[6,0,0],[12,[4,0,0],0]]],[38,[16,[8,0,[5,0,0]],[7,0,0]],[23,[10,[5,0,0],[8,0,[5,0,[3,0,0]]]],[12,[6,0,0],[9,[5,0,0],[7,0,0]]]]]]];
const TREE=[181,TREE_LOW,[157,[125,TREE_SMALL,[98,[56,TREE_SF1,TREE_SF2],TREE_BA]],[129,TREE_ER,[121,TREE_HM,TREE_BI]]]];

const m=Array.from({length:N},()=>new Array(N).fill(6));
[ROWS_0_2,ROWS_3_7,ROWS_7_14,BLOCK_SF,SF_RIGHT,BLOCK_BA,BLOCK_ER,BLOCK_HM,HM_VS_BI,BLOCK_BI].forEach(list=>list.forEach(([r0,r1,c0,c1,l])=>{
  for(let r=r0;r<Math.min(r1,N);r++)for(let c=c0;c<Math.min(c1,N);c++){m[r][c]=l;m[c][r]=l;}
}));
const cats=m.map((_,i)=>String(i));
const cells=[];
for(let r=0;r<N;r++)for(let c=0;c<N;c++)cells.push([c,r,(m[r][c]+0.5)*BIN]);
const bar=[];let pos=0;
GROUP_RUNS.forEach(([g,n])=>{for(let i=0;i<n;i++)bar.push([pos++,0,g]);});
const merges=[];let leaf=0;
(function walk(n){
  if(!n){const x=leaf+0.5;leaf++;return {x:x,h:0};}
  const a=walk(n[1]),b=walk(n[2]);
  merges.push([a.x,b.x,a.h,b.h,n[0]]);
  return {x:(a.x+b.x)/2,h:n[0]};
})(TREE);
function dendro(swap){
  return function(p,api){
    const [xa,xb,ha,hb,h]=[0,1,2,3,4].map(i=>api.value(i));
    const pt=(x,y)=>api.coord(swap?[y,x]:[x,y]);
    return {type:'polyline',shape:{points:[pt(xa,ha),pt(xa,h),pt(xb,h),pt(xb,hb)]},style:{fill:null,stroke:'#000',lineWidth:2.2}};
  };
}
const G={left:239,top:294,width:2181,height:1762};
const hide={show:false};
const tickY={'0':813,'0.1':721,'0.2':628,'0.3':535,'0.4':441,'0.5':348};
const option={
 animation:false,backgroundColor:'#fff',
 grid:[G,{left:239,top:235,width:2181,height:48},{left:239,top:52,width:2181,height:181},{left:59,top:294,width:179,height:1762}],
 xAxis:[
  {type:'category',data:cats,gridIndex:0,...hide},
  {type:'category',data:cats,gridIndex:1,...hide},
  {type:'value',min:0,max:N,gridIndex:2,...hide},
  {type:'value',min:0,max:181,inverse:true,gridIndex:3,...hide}],
 yAxis:[
  {type:'category',data:cats,inverse:true,gridIndex:0,...hide},
  {type:'category',data:['g'],gridIndex:1,...hide},
  {type:'value',min:0,max:181,gridIndex:2,...hide},
  {type:'value',min:0,max:N,inverse:true,gridIndex:3,...hide}],
 visualMap:[
  {type:'piecewise',seriesIndex:0,dimension:2,left:2437,top:293,padding:0,itemWidth:35,itemHeight:51.6,itemGap:0,itemSymbol:'rect',showLabel:false,hoverLink:false,selectedMode:false,
   pieces:LEVEL_COLORS.map((color,i)=>({gte:i*BIN,lt:(i+1)*BIN,color}))},
  {type:'piecewise',seriesIndex:1,dimension:2,left:2574,top:345.6,padding:0,itemWidth:70,itemHeight:69.1,itemGap:0,itemSymbol:'rect',align:'left',textGap:15,inverse:true,hoverLink:false,selectedMode:false,
   textStyle:{fontFamily:'Liberation Sans',fontSize:47,color:'#000'},
   pieces:GROUP_NAMES.map((label,i)=>({value:i,label,color:GROUP_COLORS[i]}))}],
 series:[
  {type:'heatmap',xAxisIndex:0,yAxisIndex:0,data:cells,progressive:0,silent:true,itemStyle:{borderColor:'rgba(255,255,255,0.12)',borderWidth:1}},
  {type:'heatmap',xAxisIndex:1,yAxisIndex:1,data:bar,progressive:0,silent:true,itemStyle:{borderColor:'rgba(255,255,255,0.10)',borderWidth:1}},
  {type:'custom',xAxisIndex:2,yAxisIndex:2,data:merges,silent:true,clip:false,encode:{x:[0,1],y:[2,3,4]},renderItem:dendro(false)},
  {type:'custom',xAxisIndex:3,yAxisIndex:3,data:merges,silent:true,clip:false,encode:{x:[2,3,4],y:[0,1]},renderItem:dendro(true)}],
 graphic:[
  {type:'text',left:2428,top:258,style:{text:'Distance',font:'32px "DejaVu Sans"',fill:'#000'}},
  {type:'text',left:2573,top:294,style:{text:'Group',font:'32px "DejaVu Sans"',fill:'#000'}},
  ...TICKS.map(t=>({type:'text',left:2485,top:tickY[t]-24,style:{text:t,font:'48px "Liberation Sans"',fill:'#000'}}))]
};
const chart=echarts.init(document.getElementById('c'),null,{renderer:'canvas'});
chart.setOption(option);
</script></body></html>
